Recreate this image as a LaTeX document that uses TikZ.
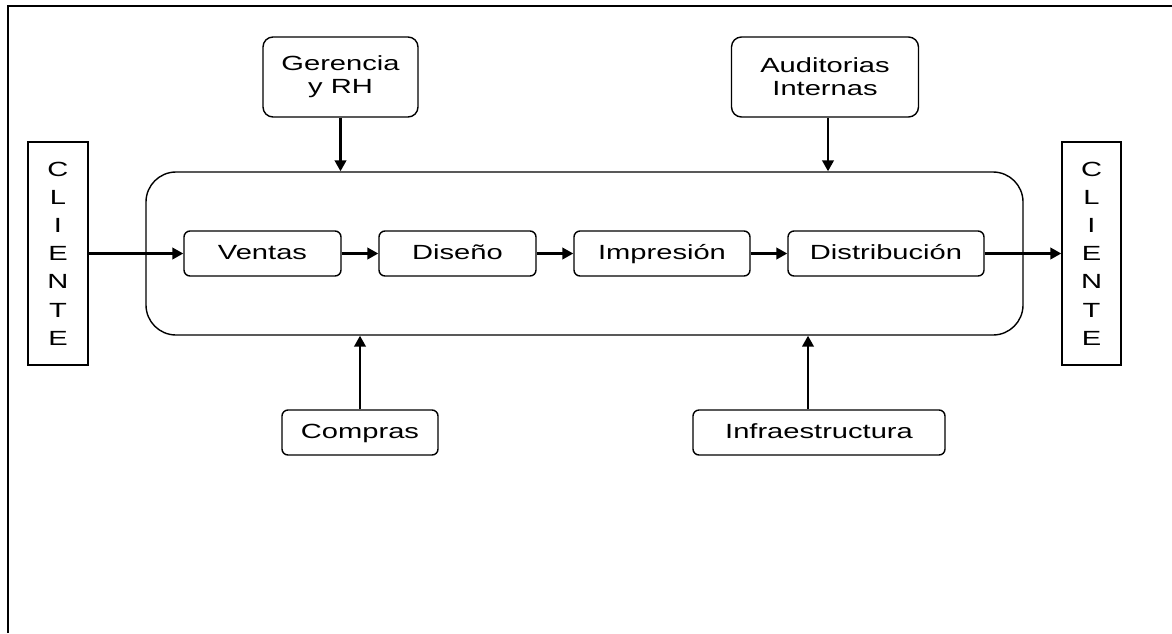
\documentclass[tikz,border=0pt]{standalone}
\usepackage{fontspec}
\setmainfont{Liberation Sans}[FakeStretch=1.42]
\usetikzlibrary{arrows.meta}

\tikzset{
  unit/.style={x=1pt,y=-1pt},
  framebox/.style={draw, rounded corners=6pt, line width=1.4pt, inner sep=0pt,
    font=\fontsize{20.5}{23}\selectfont, align=center},
  procbox/.style={framebox, minimum height=45pt, text height=15pt, text depth=4pt},
  topbox/.style={framebox, rounded corners=10pt, minimum height=80pt},
  clientbox/.style={draw, line width=1.4pt, inner sep=0pt, minimum width=60pt,
    minimum height=223pt, font=\fontsize{20.5}{28.2}\selectfont, align=center},
  arr/.style={line width=2.5pt, -{Triangle[length=11pt,width=11.5pt]}},
}

\begin{document}
\begin{tikzpicture}[unit]
  \useasboundingbox (0,0) rectangle (1172,633);

  % page frame (top and left edges)
  \draw[line width=2.6pt] (8,633) -- (8,6) -- (1172,6);

  % process container
  \node[draw, line width=1.4pt, rounded corners=30pt, minimum width=877pt,
        minimum height=163pt, inner sep=0pt] (proc) at (584.5,253.5) {};

  % support areas
  \node[topbox, minimum width=155pt] (ger) at (340.5,77) {Gerencia\\y RH};
  \node[topbox, minimum width=187pt] (aud) at (825,77) {Auditorias\\Internas};
  \node[procbox, minimum width=156pt] (com) at (360,432.5) {Compras};
  \node[procbox, minimum width=252pt] (inf) at (819,432.5) {Infraestructura};

  % main chain
  \node[procbox, minimum width=157pt] (ven) at (262.5,253.5) {Ventas};
  \node[procbox, minimum width=157pt] (dis) at (457.5,253.5) {Diseño};
  \node[procbox, minimum width=176pt] (imp) at (662,253.5) {Impresión};
  \node[procbox, minimum width=196pt] (dst) at (886,253.5) {Distribución};

  % customers
  \node[clientbox] (cl1) at (58,253.5) {C\\L\\I\\E\\N\\T\\E};
  \node[clientbox, minimum width=59pt] (cl2) at (1091.5,253.5) {C\\L\\I\\E\\N\\T\\E};

  % connector columns
  \coordinate (xaud) at (828,0);
  \coordinate (xinf) at (808,0);

  % flow arrows
  \draw[arr] (cl1.east) -- (ven.west);
  \draw[arr] (ven) -- (dis);
  \draw[arr] (dis) -- (imp);
  \draw[arr] (imp) -- (dst);
  \draw[arr] (dst.east) -- (cl2.west);

  % support arrows
  \draw[arr] (ger.south) -- (ger.south |- proc.north);
  \draw[arr] (aud.south -| xaud) -- (proc.north -| xaud);
  \draw[arr] (com.north) -- (com.north |- proc.south);
  \draw[arr] (inf.north -| xinf) -- (proc.south -| xinf);
\end{tikzpicture}
\end{document}
